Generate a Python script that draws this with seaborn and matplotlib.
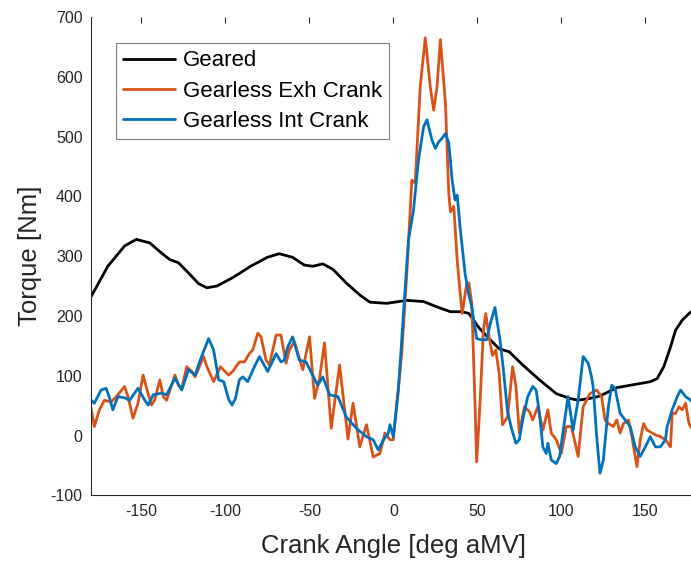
import matplotlib
matplotlib.use("Agg")
import matplotlib.pyplot as plt
import seaborn as sns
import pandas as pd

# ---------------- data ----------------
geared_angle = [-180, -170, -160, -153, -145, -138, -133, -128, -122, -116, -111, -105, -95, -85,
                -75, -68, -60, -53, -48, -42, -36, -28, -20, -14, -4, 8, 18, 26, 34, 41, 45, 51,
                57, 63, 69, 77, 87, 97, 105, 110, 117, 123, 133, 147, 153, 157, 161, 165, 168,
                172, 176, 180]
geared_torque = [232, 283, 317, 328, 322, 305, 294, 289, 272, 254, 247, 250, 265, 283,
                 298, 304, 298, 285, 283, 287, 278, 255, 235, 223, 221, 226, 224, 215, 207, 207, 204, 180,
                 162, 145, 140, 118, 93, 70, 62, 59, 62, 66, 80, 87, 90, 95, 115, 148, 176,
                 193, 204, 212]

exh_angle = [-180, -178, -175, -172, -168, -164, -160, -158, -155, -152, -149, -146, -144, -142,
             -139, -137, -135, -130, -128, -126, -123, -120, -118, -113, -111, -107, -103, -98,
             -95.7, -91.7, -88.7, -85.7, -83.7, -80.7, -78.8, -75.8, -73.8, -69.8, -66.9, -63.9,
             -61.9, -58.9, -53.9, -49.9, -46.9, -43.9, -41, -37, -32, -27, -24, -20, -16, -12,
             -8, -5, -2, 0, 2, 5, 8, 11, 13, 16, 19, 22, 24, 26, 28, 31, 33, 34, 36, 38, 40, 41,
             43.7, 45, 46.7, 48.6, 49.6, 51.6, 53.6, 55, 57, 59, 61, 63, 65, 68, 71, 73, 75, 78,
             81, 83, 86, 89, 92, 94, 97, 100, 103, 106, 110, 113, 117, 121, 124, 126, 128, 131,
             133, 135, 137, 140, 142, 145, 147, 149, 151, 153, 156, 159, 162, 165, 166, 168, 170,
             172, 174, 176, 178, 180]
exh_torque = [46, 15, 43, 59, 56, 68, 82, 65, 29, 54, 101, 70, 51, 60,
              93, 65, 59, 101, 84, 79, 115, 107, 98, 132, 115, 90, 115, 101,
              107, 123, 123, 137, 143, 171, 165, 126, 118, 168, 168, 121,
              143, 157, 110, 165, 62, 96, 155, 12, 118, -6, 54, -19, 18, -36,
              -30, 4, -7, -7, 54, 137, 271, 427, 422, 583, 665, 583, 544, 583, 662, 556, 405, 374, 383, 293, 232, 204,
              255, 255, 221, 54, -44, 54, 176, 204, 165, 134, 143, 104, 18, 31, 115, 82, 4, 48,
              40, 26, 48, 9, 43, 4, -7, -30, 15, 15, -35, 48, 70, 76, 65, 26, 20, 15,
              26, 4, 20, 26, -2, -52, -7, 20, 9, 6, 1, -2, -7, -19, 37, 37, 48,
              43, 54, 20, 10, 12]

int_angle = [-180, -178, -174, -171, -169, -167, -164, -160, -157, -152, -148, -146, -143, -138,
             -135, -130, -126, -122, -118, -115, -110, -107, -104, -101, -98, -96, -94, -91.7,
             -89.7, -86.7, -82.7, -79.7, -74.8, -69.8, -66.9, -64.9, -62.9, -60, -56, -52, -45,
             -42, -38, -33, -28, -22, -16, -12, -9, -6, -3, -2, 0, 3, 6, 9, 12, 15, 18, 20, 23,
             25, 27, 29, 31, 33, 35, 36.7, 38, 39.7, 42.7, 44.7, 46.7, 49.6, 52.6, 55.5, 58,
             60.5, 63.5, 65.5, 68, 70.5, 73, 75, 77, 80, 83, 85, 87, 89, 91, 92, 94, 97, 99, 102,
             104, 107, 110, 113, 116, 118, 119, 121, 123, 125, 128, 130, 132, 135, 138, 141, 144,
             147, 150, 153, 156, 159, 162, 163, 166, 169, 171, 174, 177, 180]
int_torque = [59, 54, 76, 79, 63, 43, 65, 63, 59, 79, 59, 51, 68, 71,
              68, 96, 76, 110, 101, 126, 162, 143, 93, 90, 60, 51, 62, 93,
              98, 90, 115, 132, 107, 137, 123, 126, 148, 165, 126, 123, 84,
              98, 68, 65, 31, 12, -2, -7, -24, -8, 4, 18, -2, 75, 204, 327, 377, 461, 516, 528, 494,
              480, 491, 497, 505, 489, 427, 394, 402, 349, 271, 238, 215, 162, 160, 160, 190,
              214, 160, 110, 40, 10, -13, -7, 26, 65, 82, 76, 37, -19, -30, -13, -41, -47, -35, 26,
              65, 9, 59, 132, 121, 98, 80, 0, -63, -41, 48, 84, 79, 37, 26, 15, -19,
              -35, -19, -2, -19, -19, -7, 15, 43, 65, 76, 65, 59, 50]

series_names = ["Geared", "Gearless Exh Crank", "Gearless Int Crank"]
series_colors = ["#000000", "#D95319", "#0072BD"]
x_ticks = [-150, -100, -50, 0, 50, 100, 150]
y_ticks = [-100, 0, 100, 200, 300, 400, 500, 600, 700]

frames = []
for name, xs, ys in zip(series_names,
                        [geared_angle, exh_angle, int_angle],
                        [geared_torque, exh_torque, int_torque]):
    frames.append(pd.DataFrame({"angle": xs, "torque": ys, "series": name}))
df = pd.concat(frames, ignore_index=True)

# ---------------- plot ----------------
sns.set_style("white")
plt.rcParams["font.family"] = ["Liberation Sans", "DejaVu Sans"]

fig = plt.figure(figsize=(6.91, 5.61), dpi=100)
ax = fig.add_axes([91 / 691, 65.7 / 561, 604.7 / 691, 478.4 / 561])

sns.lineplot(data=df, x="angle", y="torque", hue="series", hue_order=series_names,
             palette=series_colors, sort=False, estimator=None, linewidth=2.0, ax=ax)

ax.set_xlim(-180, 180)
ax.set_ylim(-100, 700)
ax.set_xticks(x_ticks)
ax.set_yticks(y_ticks)
ax.set_xticklabels([str(t) for t in x_ticks])
ax.set_yticklabels([str(t) for t in y_ticks])
ax.tick_params(direction="in", length=4, width=0.8, colors="#262626",
               labelsize=11.5, top=True, right=False, pad=6)
for side in ["left", "bottom", "top"]:
    ax.spines[side].set_color("#262626")
    ax.spines[side].set_linewidth(0.8)
ax.spines["right"].set_visible(False)
ax.spines["top"].set_visible(False)

ax.set_xlabel("Crank Angle [deg aMV]", fontsize=18.5, color="#262626", labelpad=11)
ax.set_ylabel("Torque [Nm]", fontsize=18.5, color="#262626", labelpad=6)

leg = ax.legend(loc="upper left", bbox_to_anchor=(0.041, 0.945), fontsize=16,
                frameon=True, fancybox=False, edgecolor="#7f7f7f", framealpha=1,
                handlelength=2.35, handletextpad=0.35, labelspacing=0.42,
                borderpad=0.32, borderaxespad=0)
leg.get_frame().set_linewidth(0.8)
for t in leg.get_texts():
    t.set_color("#000000")

fig.savefig("out.png", dpi=100)
